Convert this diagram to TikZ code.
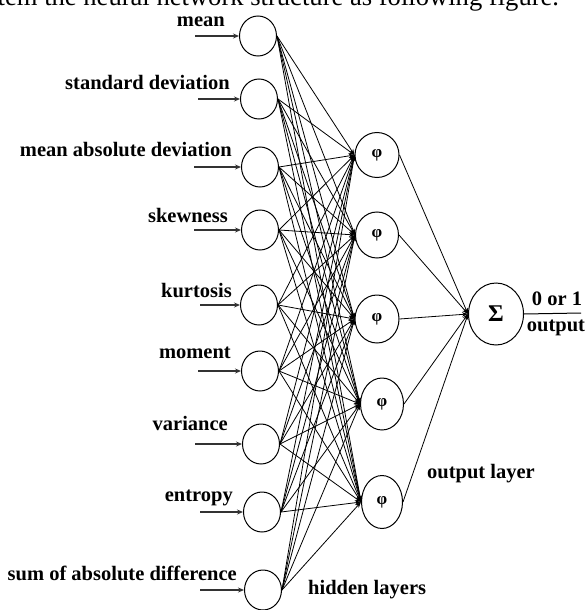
\documentclass[tikz,border=0pt]{standalone}
\usepackage{fontspec}
\setmainfont{Liberation Serif}
\usetikzlibrary{shapes.geometric,arrows.meta}
\begin{document}
\begin{tikzpicture}[x=1pt,y=-1pt,
  neuron/.style={ellipse,draw,line width=1pt,inner sep=0pt},
  lab/.style={font=\fontsize{20.5}{22}\selectfont\bfseries,inner sep=0pt},
  conn/.style={line width=0.8pt,-{Stealth[length=6pt,width=4.5pt]}},
  inarr/.style={line width=1.1pt,draw=black!80,-{Stealth[length=6pt,width=5pt]}},
]
\useasboundingbox (0,0) rectangle (585,610);
\clip (0,0) rectangle (585,610);

% cut-off caption line at the top
\node[anchor=base west,inner sep=0pt,font=\fontsize{26.6}{30}\selectfont] (cap) at (-2.5,6)
  {tem the neural network structure as following figure.};

% input neurons
\foreach \n/\x/\y in {1/258/36, 2/259/99, 3/260/167, 4/260/230, 5/259/305,
                      6/260/371, 7/261/444, 8/262/512, 9/263/590}
  \node[neuron,minimum width=37pt,minimum height=40pt] (in\n) at (\x,\y) {};

% input labels
\node[lab,anchor=base east] (l1) at (225,27)  {mean};
\node[lab,anchor=base east] (l2) at (230,89)  {standard deviation};
\node[lab,anchor=base east] (l3) at (232,156) {mean absolute deviation};
\node[lab,anchor=base east] (l4) at (228,222) {skewness};
\node[lab,anchor=base east] (l5) at (232,297) {kurtosis};
\node[lab,anchor=base east] (l6) at (231,358) {moment};
\node[lab,anchor=base east] (l7) at (228,430) {variance};
\node[lab,anchor=base east] (l8) at (233,501) {entropy};
\node[lab,anchor=base east] (l9) at (237,580) {sum of absolute difference};

% input arrows
\foreach \n/\sx in {1/195, 2/198, 3/194, 4/194, 5/200, 6/198, 7/195, 8/200, 9/200}{
  \coordinate (s\n) at (in\n.west -| \sx,0);
  \draw[inarr] (s\n) -- (in\n.west);
}

% hidden neurons
\foreach \n/\x/\y/\rx/\ry in {1/377/155/22/22.5, 2/377/235/21.5/23, 3/377/319/22/24,
                              4/382/404/21.5/26, 5/382/502/20.5/26.5}
  \node[neuron,minimum width=2*\rx pt,minimum height=2*\ry pt,
        font=\fontsize{17}{18}\selectfont\bfseries] (h\n) at (\x,\y) {φ};

% output neuron
\node[neuron,minimum width=55pt,minimum height=62pt,
      font=\fontsize{24}{26}\selectfont\bfseries] (sig) at (496,314) {Σ};

% input -> hidden
\foreach \i in {1,...,9}
  \foreach \j in {1,...,5}
    \draw[conn] (in\i.east) -- (h\j.west);

% hidden -> output
\foreach \j in {1,...,5}
  \draw[conn] (h\j.east) -- (sig.west);

% output line
\coordinate (outend) at (581,313);
\draw[line width=1pt] (sig.east) -- (outend);
\node[lab,anchor=base] (o1) at (557,305) {0 or 1};
\node[lab,anchor=base] (o2) at (556,331) {output};

% layer labels
\node[lab,anchor=base west] (hl) at (308,594) {hidden layers};
\node[lab,anchor=base west] (ol) at (427,478) {output layer};
\end{tikzpicture}
\end{document}
